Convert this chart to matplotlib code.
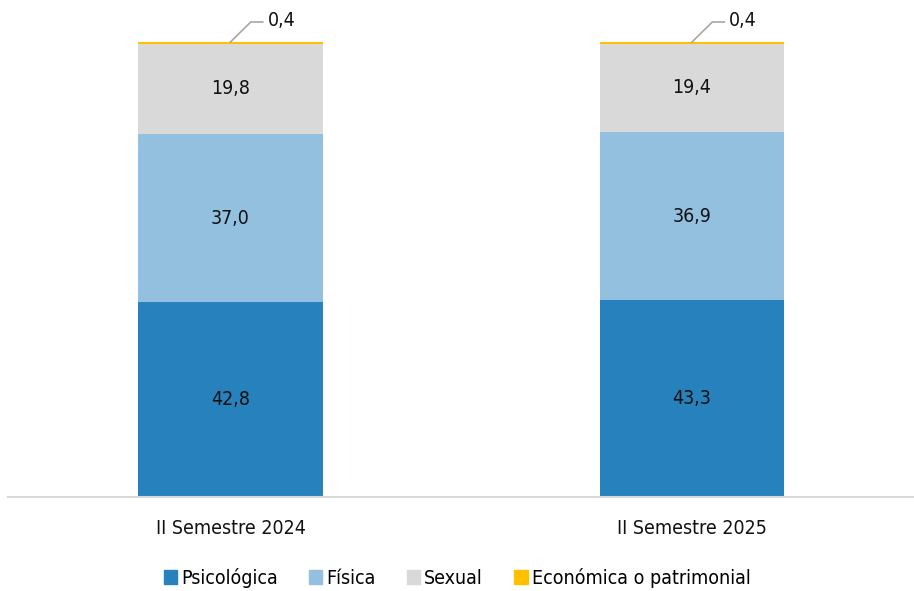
import numpy as np
import matplotlib.pyplot as plt
from matplotlib.patches import Rectangle

plt.rcParams['font.family'] = ['DejaVu Sans']
plt.rcParams['font.stretch'] = 'condensed'

periods = ["II Semestre 2024", "II Semestre 2025"]
types = ["Psicológica", "Física", "Sexual", "Económica o patrimonial"]
psicologica = [42.8, 43.3]
fisica = [37.0, 36.9]
sexual = [19.8, 19.4]
economica = [0.4, 0.4]
colors = ["#2681BD", "#92C0DE", "#D9D9D9", "#FFC000"]

series = [psicologica, fisica, sexual, economica]

fig = plt.figure(figsize=(9.14, 5.91), dpi=100)
W, H = 914, 591
ax = fig.add_axes([8 / W, (H - 497) / H, (W - 8) / W, (497 - 42) / H])

x = np.arange(len(periods))
width = 0.40
bottom = np.zeros(len(periods))
for vals, col, name in zip(series, colors, types):
    ax.bar(x, vals, width, bottom=bottom, color=col, label=name, zorder=2)
    if name != "Económica o patrimonial":
        for xi, b, v in zip(x, bottom, vals):
            ax.text(xi, b + v / 2, f"{v:.1f}".replace(".", ","), ha="center", va="center",
                    fontsize=14, color="#111111")
    else:
        # small slice: label above with a leader line
        for xi, b, v in zip(x, bottom, vals):
            top = b + v
            ax.plot([xi, xi + 0.044, xi + 0.07], [top, top + 4.4, top + 4.4],
                    color="#a6a6a6", lw=1.2, clip_on=False, zorder=3)
            ax.text(xi + 0.08, top + 4.8, f"{v:.1f}".replace(".", ","), ha="left", va="center",
                    fontsize=14, color="#111111", clip_on=False)
    bottom += np.array(vals)

ax.set_xlim(-0.482, 1.481)
ax.set_ylim(0, 100)
for s in ["top", "right", "left"]:
    ax.spines[s].set_visible(False)
ax.spines["bottom"].set_color("#d9d9d9")
ax.spines["bottom"].set_linewidth(1.5)
ax.set_yticks([])
ax.set_xticks(x)
ax.set_xticklabels(periods, fontsize=14, color="#111111")
ax.tick_params(axis="x", length=0, pad=16)

handles = [Rectangle((0, 0), 1, 1, color=c) for c in colors]
fig.legend(handles, types, loc="center", bbox_to_anchor=(0.5, (H - 578) / H), ncol=4,
           frameon=False, fontsize=14, handlelength=0.7, handleheight=0.7,
           handletextpad=0.2, columnspacing=1.6)

fig.savefig("out.png", dpi=100)
